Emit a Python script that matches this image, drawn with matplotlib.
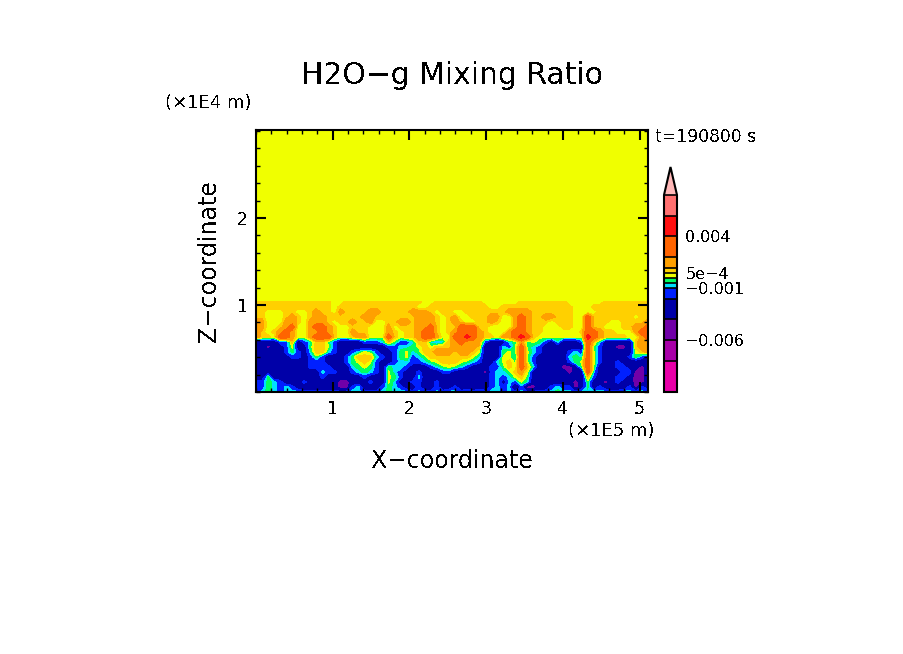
import numpy as np
import matplotlib
matplotlib.use('Agg')
import matplotlib.pyplot as plt
from matplotlib.ticker import MultipleLocator, FixedLocator

W, H = 904, 654

LEVELS = [-0.011, -0.008, -0.006, -0.004, -0.002, -0.001, -0.0005, 0, 0.0005, 0.001, 0.002, 0.004, 0.006, 0.008]
COLORS = ['#e800a8', '#a800a8', '#7000a8', '#0000a8', '#0020ff', '#00e0ff', '#00ff60',
          '#f0ff00', '#ffd000', '#ffa000', '#ff6400', '#ff1010', '#ff7070']
OVER_COLOR = '#ffb8b8'
CBAR_TICKS = [-0.006, -0.001, 0.0005, 0.004]
CBAR_LABELS = ['\u22120.006', '\u22120.001', '5e\u22124', '0.004']

# mixing ratio class of each grid cell, index into CLASS_VALUES (hex digit)
CLASS_VALUES = [-0.0095, -0.007, -0.005, -0.003, -0.0015, -0.00075, -0.00025,
                0.0001, 0.0008, 0.0014, 0.003, 0.005, 0.007]

# rows go from the model bottom upwards, ROW_Z is the height of each one (m)
ROW_Z = [0, 575, 1150, 1725, 2300, 2875, 3450, 4025, 4600, 5175, 5750, 6325,
         6900, 7475, 8050, 8625, 9200, 9775, 10350, 10450, 30100]
ROWS = [
    '45654555444 44444554445 65554544545 54545455454 54444565545 55554455454',
    '44654543333 33322453334 65433433433 43333345452 42233454423 63433334243',
    '44654333433 33322333433 75334433433 33333345354 75333333323 63323433223',
    '33633333333 43333334333 76433533333 33333345457 86333333333 84333443223',
    '33333333333 54433456543 75433433344 33333245568 97333333233 A5333344223',
    '33333333344 44333567643 65543334567 65433344687 A8533332236 A7333443323',
    '33333333344 43334678743 34554456788 87654335786 A7433333467 A7433433333',
    '33333344346 43334688854 34674568888 88875333775 A7433333565 A7433334643',
    '33333464358 85433457643 34675688999 89987333676 A7543333454 A7433333789',
    '33233473368 87433333333 44556787888 99998333546 A6543333333 A6433223899',
    '33334483458 86433334445 86445885458 9A999433356 96764353334 A8533333899',
    '9887AA9779A AA877899777 A87889AA977 AABA988799A BA877777777 BA98888779A',
    '98789A97799 A9877988777 987889AA878 9AAA987779A A9887777778 AA9887779AA',
    '997789A779A A9877888777 9788899A878 8AAA8877779 A9887778877 A887778899A',
    '99777998799 98788988977 88998999878 98778898779 A9888788877 A8887788889',
    '88777898789 98888889988 88888999878 97788899779 A9889988877 A8888888788',
    '88777887789 88798888998 88889998788 77888888899 99888888877 77888888888',
    '88888888888 88788888888 88888778888 88888877888 88888888877 78888888888',
    '88888888888 88778888888 88888877888 88888777777 88888888777 77788888888',
    '77777777777 77777777777 77777777777 77777777777 77777777777 77777777777',
    '77777777777 77777777777 77777777777 77777777777 77777777777 77777777777',
]


def px(x, y):
    return x / W, 1 - y / H


def axesRect(left, top, right, bottom):
    return [left / W, 1 - bottom / H, (right - left) / W, (bottom - top) / H]


def rowsToField(rows):
    field = []
    for row in rows:
        field.append([CLASS_VALUES[int(c, 16)] for c in row.replace(' ', '')])
    return np.array(field)


plt.rcParams['text.antialiased'] = False
plt.rcParams['font.family'] = 'DejaVu Sans'

field = rowsToField(ROWS)
xCols = np.linspace(0, 5.11e5, field.shape[1])

fig = plt.figure(figsize=(W / 100, H / 100), dpi=100)
ax = fig.add_axes(axesRect(256, 130, 648, 392))

cf = ax.contourf(xCols, ROW_Z, field, levels=LEVELS, colors=COLORS, extend='max', antialiased=False)
cf.cmap.set_over(OVER_COLOR)

ax.set_xlim(0, 5.11e5)
ax.set_ylim(0, 3.01e4)
ax.xaxis.set_major_locator(FixedLocator([1e5, 2e5, 3e5, 4e5, 5e5]))
ax.xaxis.set_minor_locator(MultipleLocator(2e4))
ax.yaxis.set_major_locator(FixedLocator([1e4, 2e4]))
ax.yaxis.set_minor_locator(MultipleLocator(2e3))
ax.set_xticklabels(['1', '2', '3', '4', '5'])
ax.set_yticklabels(['1', '2'])
ax.tick_params(which='major', direction='in', length=7.5, width=1.5, top=True, right=True, labelsize=12.5, pad=6)
ax.tick_params(which='minor', direction='in', length=3, width=1, top=True, right=True)
for spine in ax.spines.values():
    spine.set_linewidth(1.5)

cax = fig.add_axes(axesRect(664, 167, 677, 392))
cbar = fig.colorbar(cf, cax=cax, spacing='proportional', extendfrac=0.142, drawedges=True)
cbar.set_ticks(CBAR_TICKS, labels=CBAR_LABELS)
cbar.ax.tick_params(length=0, labelsize=11.5, pad=6)
cbar.ax.minorticks_off()
cbar.outline.set_linewidth(1.5)
cbar.dividers.set_linewidth(1.2)

fig.text(*px(452, 76), 'H2O\u2212g Mixing Ratio', fontsize=21.5, ha='center', va='center')
fig.text(*px(208, 103), '(\u00d71E4 m)', fontsize=13, ha='center', va='center')
fig.text(*px(611, 431), '(\u00d71E5 m)', fontsize=13, ha='center', va='center')
fig.text(*px(452, 461), 'X\u2212coordinate', fontsize=17, ha='center', va='center')
fig.text(*px(209, 261), 'Z\u2212coordinate', fontsize=17, ha='center', va='center', rotation=90)
fig.text(*px(706, 137), 't=190800 s', fontsize=12.3, ha='center', va='center')

fig.savefig('out.png', dpi=100)
